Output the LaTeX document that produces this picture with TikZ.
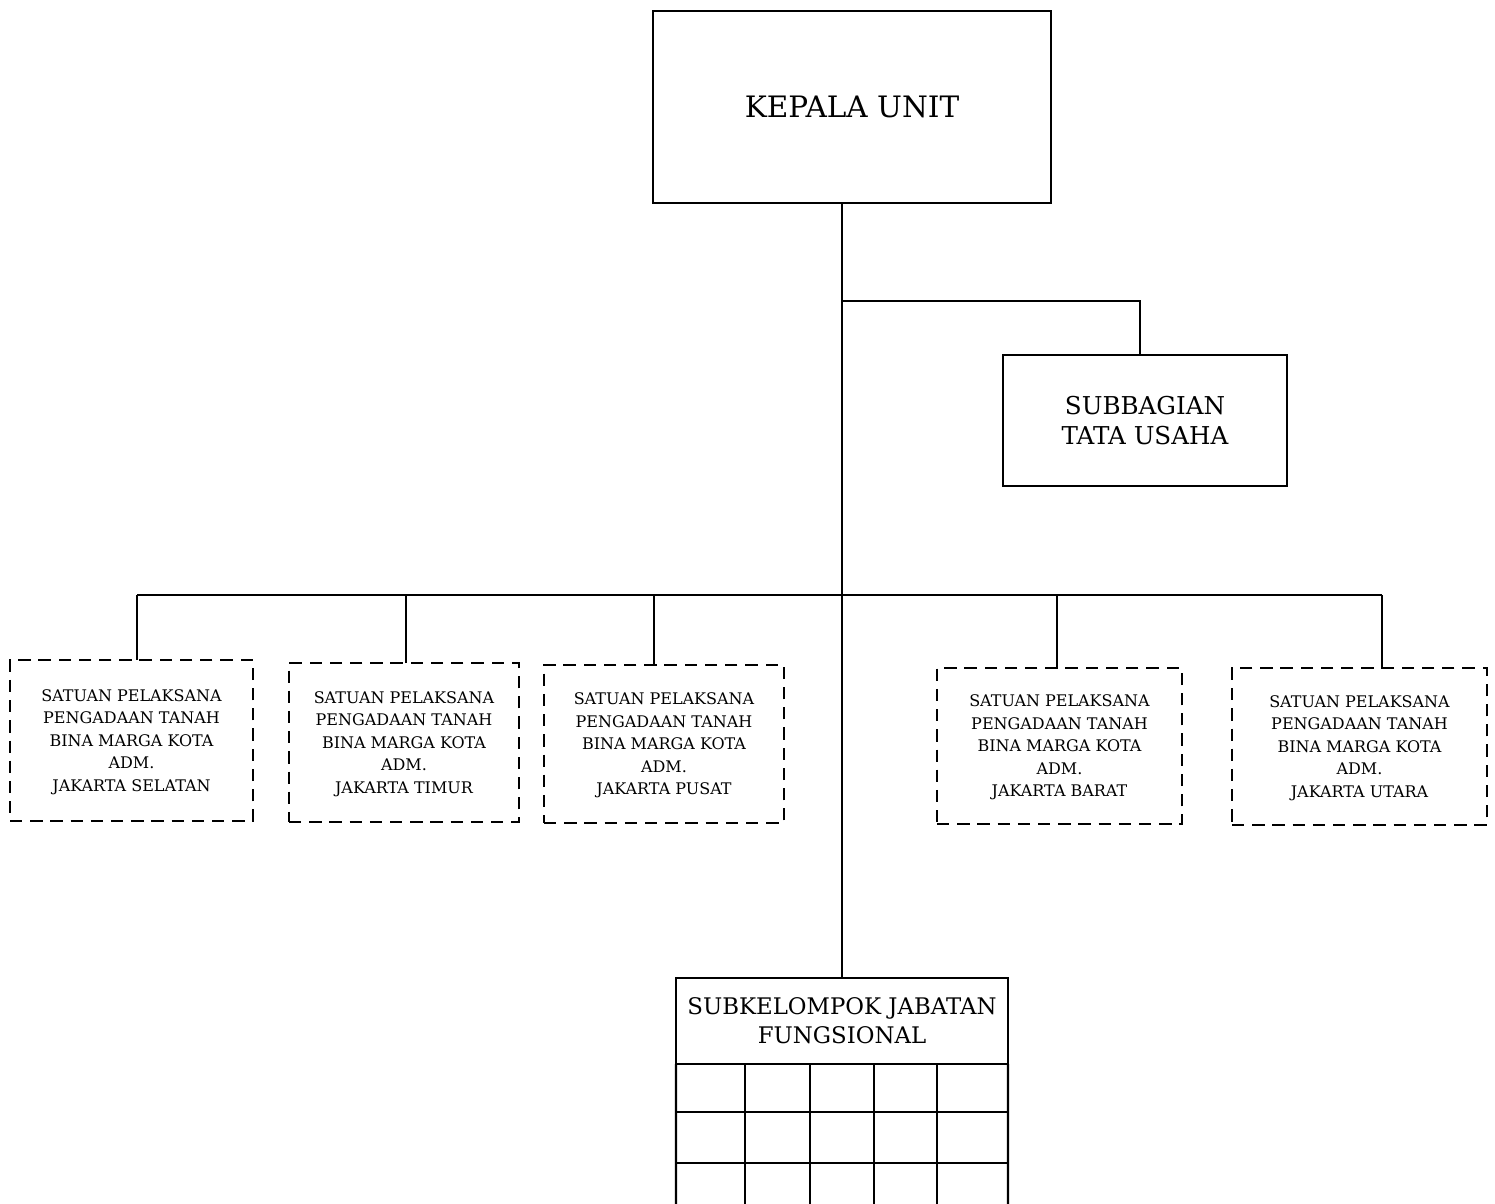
\documentclass[tikz,border=0pt]{standalone}
\usepackage{fontspec}
\setmainfont{DejaVu Serif}
\begin{document}
\begin{tikzpicture}[x=0.02cm,y=-0.02cm,line width=1.3pt,
  unitbox/.style={draw,inner sep=0pt,outer sep=0pt,align=center},
  satbox/.style={draw,dashed,dash pattern=on 7pt off 4.5pt,inner sep=0pt,outer sep=0pt,align=center,
    font=\fontsize{9.1}{12.8}\selectfont,text depth=-3pt}]
\useasboundingbox (0,0) rectangle (1495,1204);

% top boxes
\node[unitbox,minimum width=7.96cm,minimum height=3.84cm,font=\fontsize{16.8}{20}\selectfont] (ku) at (852,107) {KEPALA UNIT};
\node[unitbox,minimum width=5.68cm,minimum height=2.62cm,font=\fontsize{14}{17.6}\selectfont] (tu) at (1145,420.5) {SUBBAGIAN\\TATA USAHA};

% satuan pelaksana
\node[satbox,minimum width=4.86cm,minimum height=3.22cm] (sel) at (131.5,740.5) {SATUAN PELAKSANA\\PENGADAAN TANAH\\BINA MARGA KOTA\\ADM.\\JAKARTA SELATAN};
\node[satbox,minimum width=4.6cm,minimum height=3.18cm] (tim) at (404,742.5) {SATUAN PELAKSANA\\PENGADAAN TANAH\\BINA MARGA KOTA\\ADM.\\JAKARTA TIMUR};
\node[satbox,minimum width=4.8cm,minimum height=3.16cm] (pus) at (664,744) {SATUAN PELAKSANA\\PENGADAAN TANAH\\BINA MARGA KOTA\\ADM.\\JAKARTA PUSAT};
\node[satbox,minimum width=4.9cm,minimum height=3.12cm] (bar) at (1059.5,746) {SATUAN PELAKSANA\\PENGADAAN TANAH\\BINA MARGA KOTA\\ADM.\\JAKARTA BARAT};
\node[satbox,minimum width=5.1cm,minimum height=3.14cm] (uta) at (1359.5,746.5) {SATUAN PELAKSANA\\PENGADAAN TANAH\\BINA MARGA KOTA\\ADM.\\JAKARTA UTARA};

% fungsional
\node[unitbox,minimum width=6.64cm,minimum height=1.72cm,font=\fontsize{13}{16.5}\selectfont] (fg) at (842,1021) {SUBKELOMPOK JABATAN\\FUNGSIONAL};
\coordinate (bus) at (842,595);
\coordinate (tap) at (842,301);

% lines
\draw (fg.north |- ku.south) -- (fg.north);
\draw (tap) -| ([xshift=-0.1cm]tu.north);
\draw ([xshift=0.11cm]sel.north |- bus) -- ([xshift=0.45cm]uta.north |- bus);
\draw ([xshift=0.11cm]sel.north) -- ([xshift=0.11cm]sel.north |- bus);
\draw ([xshift=0.04cm]tim.north) -- ([xshift=0.04cm]tim.north |- bus);
\draw ([xshift=-0.2cm]pus.north) -- ([xshift=-0.2cm]pus.north |- bus);
\draw ([xshift=-0.05cm]bar.north) -- ([xshift=-0.05cm]bar.north |- bus);
\draw ([xshift=0.45cm]uta.north) -- ([xshift=0.45cm]uta.north |- bus);

% table under fungsional
\draw (fg.south west) -- (676,1204);
\draw (fg.south east) -- (1008,1204);
\foreach \x in {745,810,874,937}
  \draw (\x,1064) -- (\x,1204);
\foreach \y in {1112,1163}
  \draw (676,\y) -- (1008,\y);
\end{tikzpicture}
\end{document}
